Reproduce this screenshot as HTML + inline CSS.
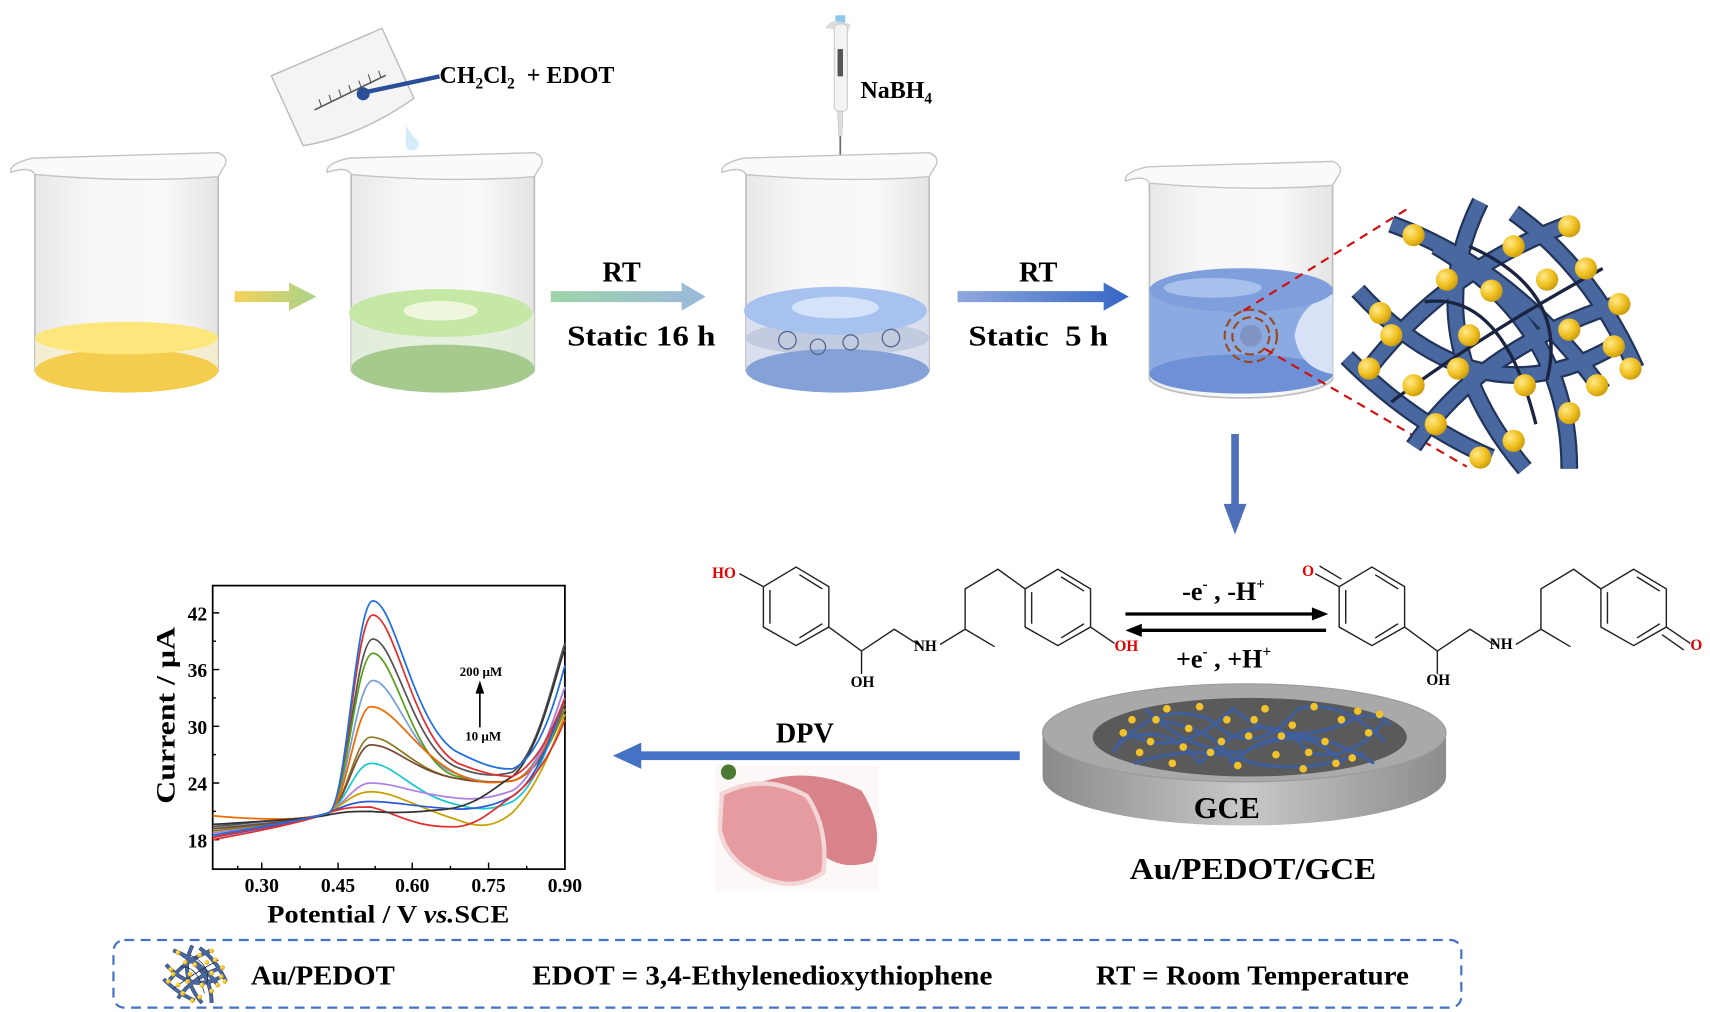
<!DOCTYPE html>
<html><head><meta charset="utf-8"><style>
html,body{margin:0;padding:0;background:#fff}
svg{display:block}
text{font-family:"Liberation Serif",serif;font-weight:bold}
</style></head><body>
<svg width="1710" height="1012" viewBox="0 0 1568 928" xmlns="http://www.w3.org/2000/svg">
<defs>
<linearGradient id="glass" x1="0" x2="1"><stop offset="0" stop-color="#e8e8e8"/><stop offset="0.3" stop-color="#f7f7f7"/><stop offset="0.7" stop-color="#f9f9f9"/><stop offset="1" stop-color="#e4e4e4"/></linearGradient>
<linearGradient id="a1" x1="0" x2="1"><stop offset="0" stop-color="#f5d25a"/><stop offset="1" stop-color="#a8d28a"/></linearGradient>
<linearGradient id="a2" x1="0" x2="1"><stop offset="0" stop-color="#9fd4a8"/><stop offset="1" stop-color="#9ab8dc"/></linearGradient>
<linearGradient id="a3" x1="0" x2="1"><stop offset="0" stop-color="#8fa8de"/><stop offset="1" stop-color="#3566c4"/></linearGradient>
<linearGradient id="disk" x1="0" x2="1"><stop offset="0" stop-color="#8a8a8a"/><stop offset="0.5" stop-color="#c8c8c8"/><stop offset="1" stop-color="#8c8c8c"/></linearGradient>
<radialGradient id="gold" cx="0.35" cy="0.35" r="0.7"><stop offset="0" stop-color="#ffe98a"/><stop offset="0.6" stop-color="#f0c020"/><stop offset="1" stop-color="#c89a10"/></radialGradient>
<g id="beaker">
 <path d="M32,160 L32,340 A85,20 0 0 0 200,340 L200,160 Z" fill="url(#glass)" stroke="#bdbdbd" stroke-width="1.5"/>
 <path d="M10,158 Q8,150 30,145 L200,140 Q212,145 204,155 L200,162 Q120,168 32,160 Q28,152 10,158 Z" fill="#fafafa" stroke="#c5c5c5" stroke-width="1.3"/>
</g>
<g id="net">
 <g fill="none" stroke-linecap="butt">
  <g stroke="#22345a" stroke-width="16">
   <path d="M20,150 Q90,60 200,20"/><path d="M40,20 Q150,60 230,170"/><path d="M10,80 Q120,200 240,130"/><path d="M120,0 Q60,120 160,240"/><path d="M60,220 Q120,130 250,90"/><path d="M0,140 Q60,200 130,230"/><path d="M150,10 Q220,60 260,150"/><path d="M80,40 Q200,110 200,240"/>
  </g>
  <g stroke="#4a68a0" stroke-width="12">
   <path d="M20,150 Q90,60 200,20"/><path d="M40,20 Q150,60 230,170"/><path d="M10,80 Q120,200 240,130"/><path d="M120,0 Q60,120 160,240"/><path d="M60,220 Q120,130 250,90"/><path d="M0,140 Q60,200 130,230"/><path d="M150,10 Q220,60 260,150"/><path d="M80,40 Q200,110 200,240"/>
  </g>
  <g stroke="#1a2440" stroke-width="3"><path d="M70,90 Q140,80 170,200"/><path d="M110,40 Q200,80 180,160"/><path d="M40,180 Q120,120 230,60"/></g>
 </g>
 <g fill="url(#gold)">
  <circle cx="40" cy="120" r="10"/><circle cx="90" cy="70" r="10"/><circle cx="150" cy="40" r="10"/><circle cx="200" cy="22" r="10"/><circle cx="60" cy="30" r="10"/><circle cx="130" cy="80" r="10"/><circle cx="200" cy="115" r="10"/><circle cx="225" cy="165" r="10"/><circle cx="30" cy="100" r="10"/><circle cx="100" cy="150" r="10"/><circle cx="160" cy="165" r="10"/><circle cx="240" cy="130" r="10"/><circle cx="80" cy="200" r="10"/><circle cx="150" cy="215" r="10"/><circle cx="110" cy="120" r="10"/><circle cx="180" cy="70" r="10"/><circle cx="245" cy="92" r="10"/><circle cx="60" cy="165" r="10"/><circle cx="200" cy="190" r="10"/><circle cx="20" cy="150" r="10"/><circle cx="255" cy="150" r="10"/><circle cx="120" cy="230" r="10"/><circle cx="215" cy="60" r="10"/>
 </g>
</g>
</defs>

<!-- pouring beaker -->
<g transform="translate(252,30) rotate(-18 60 40)">
 <path d="M0,20 L110,10 L118,80 Q60,98 8,90 Z" fill="#f4f4f4" stroke="#bbb" stroke-width="1.3"/>
 <path d="M28,62 L100,52" stroke="#555" stroke-width="1.5"/>
 <g stroke="#555" stroke-width="1"><path d="M35,61 V54"/><path d="M45,60 V53"/><path d="M55,58 V51"/><path d="M65,57 V50"/><path d="M75,56 V49"/><path d="M85,55 V46"/><path d="M95,53 V46"/></g>
</g>
<path d="M372,115 Q378,125 384,130 L384,132 A6,6 0 0 1 372,132 Z" fill="#d6ecfa"/>
<line x1="333" y1="85" x2="403" y2="70" stroke="#2b4f96" stroke-width="4"/>
<circle cx="333" cy="86" r="6" fill="#2b4f96"/>
<text x="403" y="76" font-size="22">CH<tspan font-size="14" dy="5">2</tspan><tspan dy="-5">Cl</tspan><tspan font-size="14" dy="5">2</tspan><tspan dy="-5" xml:space="preserve">  + EDOT</tspan></text>

<!-- pipette -->
<rect x="766" y="14" width="9" height="8" fill="#8fc7ea"/>
<path d="M757,26 Q760,18 770,20 L780,22 L778,28 Z" fill="#ddd"/>
<rect x="765" y="22" width="12" height="80" rx="4" fill="#f3f3f3" stroke="#ccc"/>
<rect x="768" y="45" width="5" height="25" fill="#555"/>
<path d="M768,102 L773,102 L772,125 L769,125 Z" fill="#ddd" stroke="#bbb" stroke-width=".5"/>
<line x1="770.5" y1="125" x2="770.5" y2="150" stroke="#666" stroke-width="1.5"/>
<text x="789" y="90" font-size="22">NaBH<tspan font-size="14" dy="5">4</tspan></text>
<ellipse cx="773" cy="182" rx="5" ry="8" fill="#dde9f7"/>

<!-- beaker 1 -->
<g>
 <use href="#beaker"/>
 <path d="M32,312 L32,340 A85,20 0 0 0 200,340 L200,312 Z" fill="#f8f0c8" opacity=".7"/>
 <ellipse cx="116" cy="340" rx="84" ry="20" fill="#f4cc4e"/>
 <ellipse cx="116" cy="310" rx="84" ry="15" fill="#fde77c"/>
</g>
<!-- beaker 2 -->
<g transform="translate(290,0)">
 <use href="#beaker"/>
 <path d="M32,287 L32,340 A85,20 0 0 0 200,340 L200,287 Z" fill="#dfeed6" opacity=".8"/>
 <ellipse cx="116" cy="338" rx="84" ry="22" fill="#a6c98d"/>
 <ellipse cx="114" cy="287" rx="84" ry="22" fill="#c5e8a7"/>
 <ellipse cx="114" cy="285" rx="34" ry="9" fill="#eef7dc"/>
</g>
<!-- beaker 3 -->
<g transform="translate(652,0)">
 <use href="#beaker"/>
 <path d="M32,285 L32,340 A85,20 0 0 0 200,340 L200,285 Z" fill="#d6dcee" opacity=".8"/>
 <ellipse cx="116" cy="310" rx="84" ry="16" fill="#b8c2d8" opacity=".7"/>
 <ellipse cx="116" cy="340" rx="84" ry="20" fill="#84a2d8"/>
 <ellipse cx="114" cy="285" rx="84" ry="22" fill="#a8c2f0"/>
 <ellipse cx="114" cy="282" rx="40" ry="10" fill="#d4e2fa"/>
 <g fill="none" stroke="#55688e" stroke-width="1.2"><circle cx="70" cy="312" r="8"/><circle cx="98" cy="318" r="7"/><circle cx="128" cy="314" r="7"/><circle cx="165" cy="310" r="8"/></g>
</g>
<!-- beaker 4 -->
<g transform="translate(1022,8)">
 <use href="#beaker"/>
 <path d="M32,255 L32,335 A85,20 0 0 0 200,335 L200,255 Z" fill="#8caae2"/>
 <ellipse cx="116" cy="335" rx="84" ry="18" fill="#6d90d6"/>
 <path d="M200,262 Q170,270 165,300 Q170,330 200,335 Z" fill="#d8e2f6"/>
 <ellipse cx="116" cy="258" rx="84" ry="20" fill="#7e9edc"/>
 <ellipse cx="90" cy="256" rx="45" ry="9" fill="#a8c0ec"/>
 <g fill="none" stroke="#9a4a20" stroke-width="2" stroke-dasharray="8,4"><circle cx="125" cy="300" r="24"/><circle cx="125" cy="300" r="17"/></g>
 <circle cx="125" cy="300" r="10" fill="#7a8ab8" opacity=".7"/>
</g>
<line x1="1140" y1="285" x2="1293" y2="190" stroke="#d01010" stroke-width="2" stroke-dasharray="8,6"/>
<line x1="1160" y1="320" x2="1345" y2="428" stroke="#d01010" stroke-width="2" stroke-dasharray="8,6"/>
<g transform="translate(1235,185) scale(1.02)"><use href="#net"/></g>

<!-- arrows top -->
<path d="M215,267 H265 V259 L290,272 L265,285 V277 H215 Z" fill="url(#a1)"/>
<path d="M505,267 H625 V259 L647,272 L625,285 V277 H505 Z" fill="url(#a2)"/>
<path d="M878,267 H1012 V259 L1035,272 L1012,285 V277 H878 Z" fill="url(#a3)"/>
<text x="570" y="258" font-size="26" text-anchor="middle">RT</text>
<text x="520" y="317" font-size="26" textLength="136" lengthAdjust="spacingAndGlyphs">Static 16 h</text>
<text x="952" y="258" font-size="26" text-anchor="middle">RT</text>
<text x="888" y="317" font-size="26" xml:space="preserve" textLength="128" lengthAdjust="spacingAndGlyphs">Static  5 h</text>

<!-- down arrow -->
<rect x="1129" y="398" width="7" height="68" fill="#4f6fb8"/>
<path d="M1122,462 L1143,462 L1132.5,490 Z" fill="#4f6fb8"/>

<!-- molecules -->
<g fill="none" stroke="#222" stroke-width="1.3">
 <path d="M730,520 L760,538 L760,575 L730,592 L700,575 L700,538 Z"/>
 <path d="M733,527 L754,540 M754,572 L733,585 M706,572 L706,541"/>
 <path d="M678,526 L700,538"/>
 <path d="M760,575 L790,597 L820,577 L842,591"/>
 <path d="M790,597 L790,618"/>
 <path d="M862,591 L885,577 L912,593 M885,577 L885,540 L915,522 L940,540"/>
 <path d="M970,522 L1000,540 L1000,575 L970,592 L940,575 L940,540 Z"/>
 <path d="M973,529 L994,542 M994,572 L973,585 M946,572 L946,543"/>
</g>
<path d="M1000,575 L1022,590" stroke="#222" stroke-width="1.3"/>
<text x="653" y="530" font-size="14" fill="#e00000">HO</text>
<text x="780" y="630" font-size="14">OH</text>
<text x="838" y="597" font-size="14">NH</text>
<text x="1022" y="597" font-size="14" fill="#e00000">OH</text>
<g transform="translate(528,0)" fill="none" stroke="#222" stroke-width="1.3">
 <path d="M730,520 L760,538 L760,575 L730,592 L700,575 L700,538 Z"/>
 <path d="M733,527 L754,540 M754,572 L733,585 M706,572 L706,541"/>
 <path d="M678,526 L700,538 M682,519 L702,531"/>
 <path d="M760,575 L790,597 L820,577 L842,591"/>
 <path d="M790,597 L790,618"/>
 <path d="M862,591 L885,577 L912,593 M885,577 L885,540 L915,522 L940,540"/>
 <path d="M970,522 L1000,540 L1000,575 L970,592 L940,575 L940,540 Z"/>
 <path d="M973,529 L994,542 M994,572 L973,585 M946,572 L946,543"/>
 <path d="M1000,575 L1022,590 M996,582 L1016,596"/>
</g>
<text x="1194" y="528" font-size="14" fill="#e00000">O</text>
<text x="1308" y="628" font-size="14">OH</text>
<text x="1366" y="595" font-size="14">NH</text>
<text x="1550" y="596" font-size="14" fill="#e00000">O</text>
<line x1="1032" y1="563" x2="1205" y2="563" stroke="#000" stroke-width="3"/>
<path d="M1203,557 L1218,563 L1203,569 Z"/>
<line x1="1045" y1="578" x2="1216" y2="578" stroke="#000" stroke-width="3"/>
<path d="M1047,572 L1032,578 L1047,584 Z"/>
<text x="1122" y="550" font-size="24" text-anchor="middle">-e<tspan font-size="14" dy="-10">-</tspan><tspan dy="10"> , -H</tspan><tspan font-size="14" dy="-10">+</tspan></text>
<text x="1122" y="612" font-size="24" text-anchor="middle">+e<tspan font-size="14" dy="-10">-</tspan><tspan dy="10"> , +H</tspan><tspan font-size="14" dy="-10">+</tspan></text>

<!-- GCE disk -->
<path d="M956,672 L956,712 A185,45 0 0 0 1326,712 L1326,672 Z" fill="url(#disk)"/>
<ellipse cx="1141" cy="672" rx="185" ry="45" fill="#a9a9a9" stroke="#999"/>
<ellipse cx="1146" cy="676" rx="144" ry="36" fill="#5a5a5a"/>
<g stroke="#3f5f9e" stroke-width="3" fill="none" opacity=".95">
 <path d="M1020,690 Q1060,640 1110,660 Q1150,700 1190,650 Q1230,640 1270,680"/>
 <path d="M1030,670 Q1080,700 1130,650 Q1180,690 1240,660 Q1260,650 1275,665"/>
 <path d="M1040,700 Q1100,680 1150,700 Q1200,710 1250,690"/>
 <path d="M1050,650 Q1090,690 1140,690 Q1200,660 1230,700"/>
 <path d="M1025,680 Q1070,660 1100,700 Q1160,640 1200,690 Q1240,700 1270,660"/>
 <path d="M1060,660 Q1120,670 1130,700 Q1180,650 1260,700"/>
</g>
<g fill="#f2c22a">
 <circle cx="1030" cy="672" r="3.5"/><circle cx="1045" cy="690" r="3.5"/><circle cx="1060" cy="660" r="3.5"/><circle cx="1075" cy="700" r="3.5"/><circle cx="1090" cy="668" r="3.5"/><circle cx="1100" cy="648" r="3.5"/><circle cx="1110" cy="690" r="3.5"/><circle cx="1125" cy="660" r="3.5"/><circle cx="1135" cy="702" r="3.5"/><circle cx="1145" cy="675" r="3.5"/><circle cx="1160" cy="650" r="3.5"/><circle cx="1170" cy="692" r="3.5"/><circle cx="1185" cy="665" r="3.5"/><circle cx="1195" cy="705" r="3.5"/><circle cx="1205" cy="648" r="3.5"/><circle cx="1215" cy="680" r="3.5"/><circle cx="1230" cy="660" r="3.5"/><circle cx="1240" cy="695" r="3.5"/><circle cx="1255" cy="672" r="3.5"/><circle cx="1265" cy="655" r="3.5"/><circle cx="1055" cy="680" r="3.5"/><circle cx="1085" cy="685" r="3.5"/><circle cx="1150" cy="660" r="3.5"/><circle cx="1225" cy="700" r="3.5"/><circle cx="1070" cy="650" r="3.5"/><circle cx="1120" cy="680" r="3.5"/><circle cx="1175" cy="675" r="3.5"/><circle cx="1245" cy="652" r="3.5"/><circle cx="1038" cy="660" r="3.5"/><circle cx="1200" cy="690" r="3.5"/>
</g>
<text x="1125" y="750" font-size="28" text-anchor="middle">GCE</text>
<text x="1036" y="806" font-size="28" textLength="226" lengthAdjust="spacingAndGlyphs">Au/PEDOT/GCE</text>

<!-- DPV arrow -->
<rect x="585" y="689" width="350" height="8" fill="#4472c4"/>
<path d="M588,681 L562,693 L588,705 Z" fill="#4472c4"/>
<text x="738" y="681" font-size="26" text-anchor="middle">DPV</text>
<rect x="656" y="702" width="150" height="115" fill="#fbf8f7"/>
<circle cx="668" cy="708" r="7" fill="#4d7a32"/>
<path d="M690,720 Q740,700 790,725 Q812,760 800,790 Q770,800 750,780 Q720,770 690,760 Z" fill="#d8828a"/>
<path d="M662,728 Q700,708 740,730 Q760,760 755,800 Q730,818 700,805 Q665,790 660,760 Z" fill="#e59ba0" stroke="#f3d6d6" stroke-width="4"/>

<!-- plot -->
<rect x="195" y="537" width="323" height="260" fill="none" stroke="#000" stroke-width="1.6"/>
<g stroke="#000" stroke-width="1.3">
 <path d="M240,797 v-6 M310,797 v-6 M378,797 v-6 M448,797 v-6 M275,797 v-3 M344,797 v-3 M413,797 v-3 M483,797 v-3 M218,797 v-3"/>
 <path d="M195,562 h6 M195,614 h6 M195,666 h6 M195,718 h6 M195,770 h6 M195,588 h3 M195,640 h3 M195,692 h3 M195,744 h3"/>
</g>
<g font-size="18" text-anchor="middle">
 <text x="240" y="818">0.30</text><text x="310" y="818">0.45</text><text x="378" y="818">0.60</text><text x="448" y="818">0.75</text><text x="518" y="818">0.90</text>
</g>
<g font-size="18" text-anchor="end">
 <text x="190" y="569">42</text><text x="190" y="621">36</text><text x="190" y="673">30</text><text x="190" y="725">24</text><text x="190" y="777">18</text>
</g>
<text x="245" y="846" font-size="23" textLength="222" lengthAdjust="spacingAndGlyphs">Potential / V <tspan font-style="italic">vs.</tspan>SCE</text>
<text transform="translate(160,656) rotate(-90)" font-size="24" text-anchor="middle" textLength="162" lengthAdjust="spacingAndGlyphs">Current / μA</text>
<text x="441" y="620" font-size="12" text-anchor="middle">200 μM</text>
<text x="443" y="679" font-size="12" text-anchor="middle">10 μM</text>
<line x1="440" y1="667" x2="440" y2="634" stroke="#000" stroke-width="1.5"/>
<path d="M436,636 L440,624 L444,636 Z"/>
<g fill="none" stroke-width="1.6">
 <path stroke="#555" d="M195,758 C260,752 290,750 302,745 C318,735 326,586 342,586 C362,586 380,690 420,704 C440,712 455,712 470,708 C495,690 510,610 518,590"/>
 <path stroke="#7a9fd8" d="M195,760 C260,752 290,750 302,745 C318,735 326,624 342,624 C362,624 380,700 420,710 C440,718 455,718 470,716 C495,710 510,650 518,630"/>
 <path stroke="#5a9e1a" d="M195,764 C260,754 290,750 302,745 C318,735 326,599 342,599 C362,599 380,706 420,712 C440,718 455,718 470,716 C495,710 510,670 518,650"/>
 <path stroke="#8a7a20" d="M195,762 C260,754 290,750 302,745 C318,735 326,676 340,676 C362,676 380,708 420,714 C440,718 455,718 470,716 C495,710 510,668 518,650"/>
 <path stroke="#7a4a3a" d="M195,760 C260,754 290,750 302,745 C318,735 326,683 340,683 C362,683 380,708 420,714 C440,718 455,718 470,716 C495,710 510,664 518,645"/>
 <path stroke="#f06a00" d="M195,748 C260,754 290,750 302,745 C318,735 326,648 340,648 C362,648 380,690 420,710 C440,720 455,718 470,716 C495,710 510,660 518,640"/>
 <path stroke="#1ac8d0" d="M195,766 C260,756 290,750 302,745 C318,735 326,700 340,700 C362,700 380,730 420,738 C440,744 455,742 470,735 C495,720 510,660 518,640"/>
 <path stroke="#b080e0" d="M195,764 C260,756 290,750 302,745 C318,735 326,718 340,718 C362,718 380,728 420,732 C440,734 455,730 470,725 C495,710 510,650 518,630"/>
 <path stroke="#c8a000" d="M195,766 C260,756 290,750 302,745 C318,735 326,726 340,726 C362,726 380,740 420,752 C440,760 455,758 470,745 C495,720 510,675 518,655"/>
 <path stroke="#2a5ad8" d="M195,768 C260,756 290,750 302,745 C318,738 326,735 340,735 C362,735 380,740 420,742 C440,742 455,738 470,730 C495,715 510,660 518,640"/>
 <path stroke="#e03030" d="M195,770 C260,758 290,750 302,745 C318,740 326,740 340,740 C362,745 380,760 420,758 C440,756 455,740 470,730 C495,712 510,680 518,660"/>
 <path stroke="#333" d="M195,756 C260,752 290,750 302,747 C318,744 326,744 340,744 C362,746 380,745 410,742 C440,738 455,720 470,712 C495,690 510,615 518,595"/>
 <path stroke="#e03030" d="M195,768 C260,754 290,750 302,745 C318,735 326,564 342,564 C362,564 380,680 420,700 C440,708 455,712 470,712 C495,700 510,660 518,640"/>
 <path stroke="#1f6fe0" d="M195,766 C260,754 290,750 302,745 C318,735 326,551 342,551 C362,551 380,670 420,690 C440,700 455,706 470,705 C495,695 510,640 518,610"/>
</g>

<!-- legend -->
<rect x="104" y="862" width="1236" height="62" rx="10" fill="none" stroke="#4472c4" stroke-width="2" stroke-dasharray="9,6"/>
<g transform="translate(150,867) scale(0.22)"><use href="#net"/></g>
<text x="230" y="903" font-size="25" textLength="132" lengthAdjust="spacingAndGlyphs">Au/PEDOT</text>
<text x="488" y="903" font-size="25" textLength="422" lengthAdjust="spacingAndGlyphs">EDOT = 3,4-Ethylenedioxythiophene</text>
<text x="1005" y="903" font-size="25" textLength="287" lengthAdjust="spacingAndGlyphs">RT = Room Temperature</text>
</svg>
</body></html>
